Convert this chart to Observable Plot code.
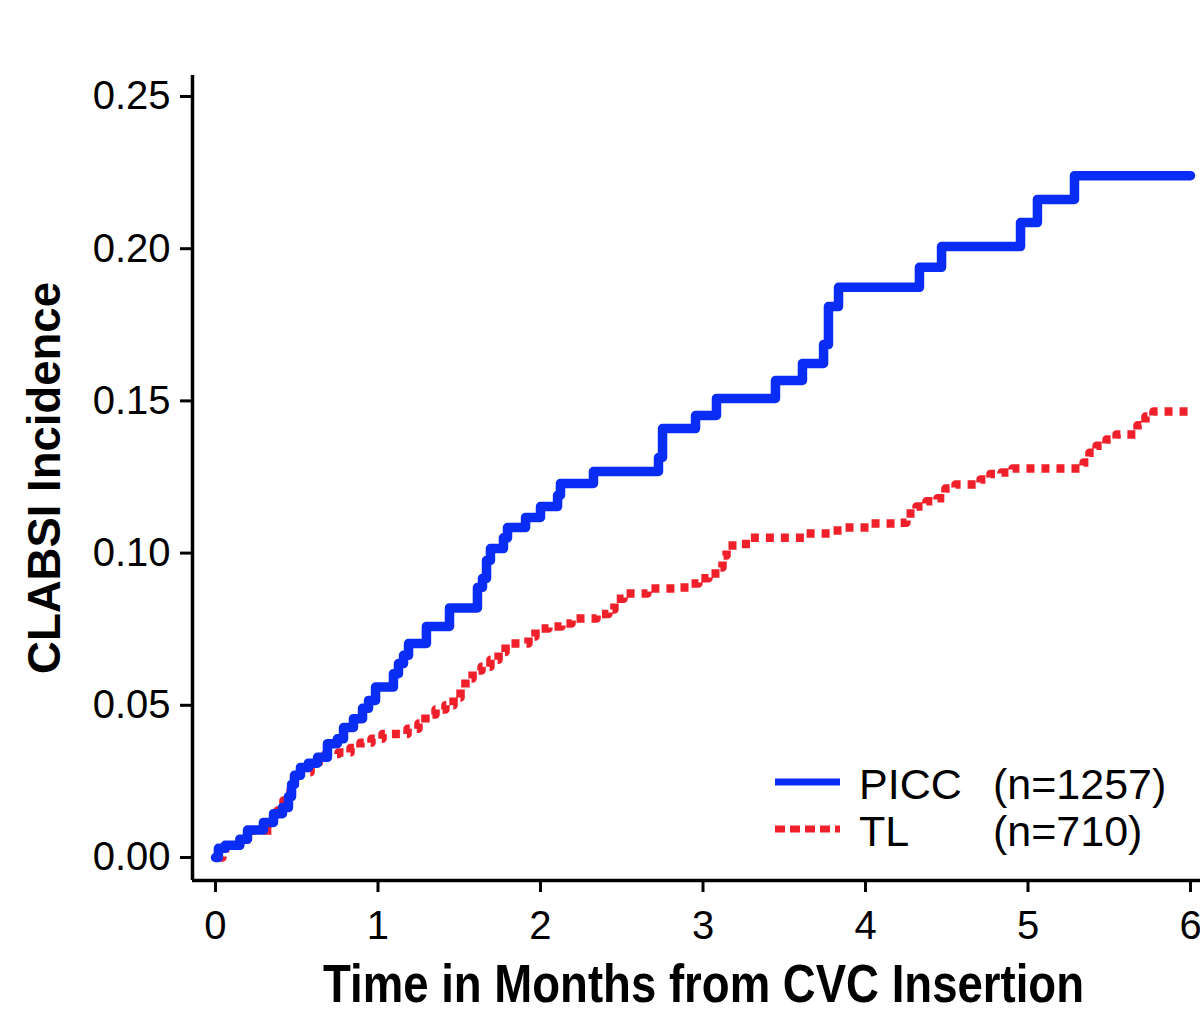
<!DOCTYPE html>
<html>
<head>
<meta charset="utf-8">
<script src="https://cdn.jsdelivr.net/npm/d3@7"></script>
<script src="https://cdn.jsdelivr.net/npm/@observablehq/plot@0.6"></script>
<style>
  html, body { margin: 0; padding: 0; background: #fff; }
  #wrap { position: relative; width: 1200px; height: 1030px; overflow: hidden; font-family: "Liberation Sans", Arial, sans-serif; }
  #legend { position: absolute; left: 760px; top: 755px; pointer-events: none; }
</style>
</head>
<body>
<div id="wrap"></div>
<script>
// PICC cumulative incidence (step-after): time in months, incidence
const piccTime = [0, 0.018, 0.06, 0.15, 0.197, 0.295, 0.357, 0.412, 0.449, 0.468, 0.486, 0.523, 0.572, 0.628, 0.689, 0.75, 0.788, 0.849, 0.905, 0.942, 0.985, 1.095, 1.126, 1.157, 1.188, 1.298, 1.44, 1.612, 1.643, 1.668, 1.692, 1.772, 1.797, 1.908, 2.0, 2.105, 2.123, 2.326, 2.726, 2.751, 2.954, 3.083, 3.446, 3.612, 3.742, 3.772, 3.834, 4.332, 4.468, 4.954, 5.058, 5.286, 6.0];
const piccValue = [0, 0.003, 0.004, 0.006, 0.009, 0.0115, 0.0144, 0.0164, 0.02, 0.024, 0.027, 0.0296, 0.031, 0.0329, 0.0374, 0.039, 0.0427, 0.0456, 0.049, 0.0516, 0.056, 0.0604, 0.0637, 0.0664, 0.0703, 0.0759, 0.082, 0.0887, 0.0917, 0.0976, 0.1015, 0.105, 0.1084, 0.1117, 0.1153, 0.119, 0.1229, 0.1268, 0.1314, 0.1409, 0.1452, 0.1508, 0.1567, 0.1623, 0.1685, 0.181, 0.1873, 0.1939, 0.2007, 0.2086, 0.2162, 0.224, 0.224];

// TL cumulative incidence (step-after)
const tlTime = [0, 0.043, 0.123, 0.185, 0.222, 0.345, 0.382, 0.418, 0.462, 0.486, 0.517, 0.585, 0.634, 0.677, 0.757, 0.831, 0.892, 0.96, 1.028, 1.182, 1.249, 1.292, 1.354, 1.415, 1.465, 1.508, 1.538, 1.582, 1.637, 1.692, 1.742, 1.785, 1.926, 1.969, 2.049, 2.129, 2.191, 2.345, 2.418, 2.455, 2.511, 2.658, 2.837, 2.911, 2.972, 3.034, 3.102, 3.12, 3.145, 3.218, 3.292, 3.631, 3.791, 3.877, 4.031, 4.215, 4.252, 4.314, 4.375, 4.443, 4.492, 4.554, 4.708, 4.769, 4.837, 4.905, 5.342, 5.378, 5.422, 5.483, 5.545, 5.662, 5.674, 5.723, 5.772, 6.0];
const tlValue = [0, 0.003, 0.004, 0.006, 0.0089, 0.012, 0.0154, 0.0187, 0.022, 0.0246, 0.028, 0.030, 0.0319, 0.034, 0.0345, 0.036, 0.0377, 0.039, 0.0406, 0.0423, 0.044, 0.047, 0.0486, 0.050, 0.0526, 0.0555, 0.0588, 0.0614, 0.0627, 0.065, 0.0675, 0.0703, 0.0726, 0.0752, 0.0759, 0.0769, 0.0785, 0.080, 0.0815, 0.085, 0.0867, 0.0884, 0.0887, 0.090, 0.0917, 0.0933, 0.0953, 0.0992, 0.1025, 0.103, 0.105, 0.1064, 0.1074, 0.1084, 0.1097, 0.110, 0.113, 0.1153, 0.117, 0.118, 0.1212, 0.1225, 0.1242, 0.126, 0.1265, 0.1278, 0.1298, 0.133, 0.1353, 0.1373, 0.139, 0.1393, 0.142, 0.1449, 0.1465, 0.1465];

const xTicks = [0, 1, 2, 3, 4, 5, 6];
const yTicks = [0, 0.05, 0.10, 0.15, 0.20, 0.25];

const seriesNames = ["PICC", "TL"];
const seriesN = ["(n=1257)", "(n=710)"];
const xLabel = "Time in Months from CVC Insertion";
const yLabel = "CLABSI Incidence";

const BLUE = "#0a2df5";
const RED = "#f0202a";

const picc = piccTime.map((t, i) => ({t, v: piccValue[i]}));
const tl = tlTime.map((t, i) => ({t, v: tlValue[i]}));

const xDomain = [-0.1415, 6.0615];
const yDomain = [-0.00756, 0.2569];

const chart = Plot.plot({
  width: 1200,
  height: 1030,
  marginLeft: 192,
  marginRight: 0,
  marginTop: 75,
  marginBottom: 150,
  style: {fontFamily: "'Liberation Sans', Arial, sans-serif", background: "white", color: "black", overflow: "visible"},
  x: {domain: xDomain, ticks: xTicks},
  y: {domain: yDomain, ticks: yTicks},
  marks: [
    Plot.axisY(yTicks, {tickSize: 12, tickPadding: 10, fontSize: 40, strokeWidth: 3, tickFormat: d3.format(".2f"), label: null}),
    Plot.axisX(xTicks, {tickSize: 12, tickPadding: 18, fontSize: 40, strokeWidth: 3, tickFormat: d3.format("d"), label: null}),
    Plot.ruleX([xDomain[0]], {strokeWidth: 3.5}),
    Plot.ruleY([yDomain[0]], {strokeWidth: 3.5}),
    Plot.line(tl, {x: "t", y: "v", curve: "step-after", stroke: RED, strokeWidth: 8.5, strokeDasharray: "8,7", strokeLinecap: "butt"}),
    Plot.line(picc, {x: "t", y: "v", curve: "step-after", stroke: BLUE, strokeWidth: 9.5, strokeLinecap: "round", strokeLinejoin: "round"}),
    Plot.text([yLabel], {frameAnchor: "left", textAnchor: "middle", dx: -147, rotate: -90, fontSize: 45.5, fontWeight: "bold", fill: "black", text: d => d}),
    Plot.text([xLabel], {frameAnchor: "bottom", textAnchor: "middle", dx: 7, dy: 105, fontSize: 53, fontWeight: "bold", fill: "black", text: d => d, lineAnchor: "middle"})
  ]
});

// The reference's x-axis title is set in a condensed bold face: compress it horizontally
chart.querySelectorAll("text").forEach(el => {
  if (el.textContent === xLabel) {
    const tr = el.getAttribute("transform") || "";
    el.setAttribute("transform", tr + " scale(0.86,1)");
  }
});

const wrap = document.getElementById("wrap");
wrap.appendChild(chart);

// Legend overlay (inside plot, lower right)
const ns = "http://www.w3.org/2000/svg";
const leg = document.createElementNS(ns, "svg");
leg.setAttribute("id", "legend");
leg.setAttribute("width", 440);
leg.setAttribute("height", 110);
const ox = 760, oy = 755;
const rows = [
  {name: seriesNames[0], n: seriesN[0], color: BLUE, dash: null, y: 782, base: 799},
  {name: seriesNames[1], n: seriesN[1], color: RED, dash: "10,5", y: 829, base: 846}
];
rows.forEach(r => {
  const l = document.createElementNS(ns, "line");
  l.setAttribute("x1", 775 - ox); l.setAttribute("x2", 840 - ox);
  l.setAttribute("y1", r.y - oy); l.setAttribute("y2", r.y - oy);
  l.setAttribute("stroke", r.color);
  l.setAttribute("stroke-width", 7);
  if (r.dash) l.setAttribute("stroke-dasharray", r.dash);
  leg.appendChild(l);
  const t1 = document.createElementNS(ns, "text");
  t1.setAttribute("x", 859 - ox); t1.setAttribute("y", r.base - oy);
  t1.setAttribute("font-size", 43);
  t1.setAttribute("font-family", "'Liberation Sans', Arial, sans-serif");
  t1.textContent = r.name;
  leg.appendChild(t1);
  const t2 = document.createElementNS(ns, "text");
  t2.setAttribute("x", 993 - ox); t2.setAttribute("y", r.base - oy);
  t2.setAttribute("font-size", 43);
  t2.setAttribute("font-family", "'Liberation Sans', Arial, sans-serif");
  t2.textContent = r.n;
  leg.appendChild(t2);
});
wrap.appendChild(leg);
</script>
</body>
</html>
